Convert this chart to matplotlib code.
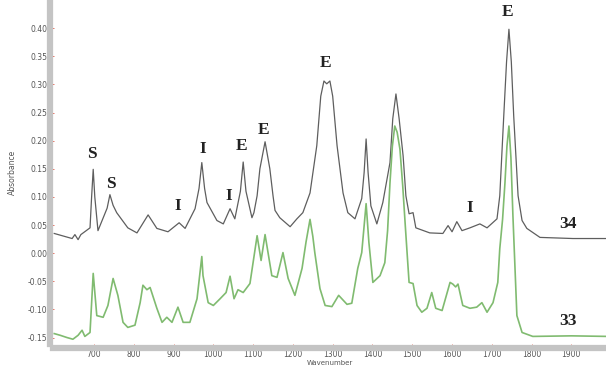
import numpy as np
import matplotlib.pyplot as plt
from matplotlib.ticker import MultipleLocator

# sample 34 (upper trace)
wn34 = [600, 645, 652, 660, 667, 690, 694, 698, 702, 710, 733, 740, 748, 757, 785,
        808, 836, 858, 886, 914, 929, 954, 964, 971, 978, 984, 1009, 1025, 1042,
        1054, 1068, 1075, 1082, 1097, 1102, 1110, 1117, 1130, 1142, 1150, 1155,
        1167, 1193, 1210, 1225, 1243, 1260, 1270, 1278, 1285, 1293, 1300, 1311,
        1326, 1338, 1356, 1373, 1379, 1384, 1389, 1396, 1411, 1426, 1444, 1451,
        1459, 1467, 1477, 1484, 1492, 1502, 1509, 1544, 1577, 1590, 1600, 1612,
        1625, 1645, 1670, 1688, 1713, 1720, 1730, 1737, 1743, 1749, 1755, 1766,
        1776, 1788, 1821, 1904, 1990]
ab34 = [0.035, 0.026, 0.033, 0.024, 0.033, 0.045, 0.100, 0.149, 0.100, 0.040,
        0.080, 0.104, 0.085, 0.072, 0.045, 0.036, 0.068, 0.044, 0.038, 0.054,
        0.044, 0.079, 0.115, 0.161, 0.115, 0.090, 0.058, 0.052, 0.079, 0.061,
        0.110, 0.162, 0.110, 0.063, 0.072, 0.102, 0.150, 0.198, 0.150, 0.102,
        0.076, 0.063, 0.047, 0.061, 0.072, 0.107, 0.191, 0.279, 0.306, 0.301,
        0.306, 0.279, 0.191, 0.107, 0.072, 0.061, 0.097, 0.143, 0.203, 0.143,
        0.084, 0.052, 0.090, 0.161, 0.239, 0.283, 0.239, 0.173, 0.102, 0.070,
        0.072, 0.045, 0.036, 0.035, 0.049, 0.038, 0.056, 0.040, 0.045, 0.052,
        0.045, 0.061, 0.102, 0.244, 0.340, 0.398, 0.340, 0.244, 0.102, 0.058,
        0.044, 0.028, 0.026, 0.026]

# sample 33 (lower trace)
wn33 = [600, 615, 632, 647, 660, 670, 677, 690, 698, 707, 723, 735, 748, 760, 773,
        785, 803, 816, 823, 833, 841, 858, 871, 883, 896, 911, 924, 941, 959, 971,
        974, 987, 1000, 1017, 1032, 1042, 1052, 1062, 1075, 1092, 1110, 1120, 1130,
        1147, 1160, 1175, 1188, 1205, 1223, 1233, 1243, 1250, 1255, 1268, 1281,
        1298, 1315, 1336, 1348, 1363, 1373, 1384, 1391, 1401, 1419, 1431, 1438,
        1444, 1450, 1456, 1462, 1469, 1476, 1482, 1488, 1492, 1502, 1512, 1524,
        1537, 1549, 1559, 1575, 1595, 1602, 1609, 1615, 1627, 1645, 1662, 1675,
        1688, 1703, 1715, 1720, 1727, 1733, 1738, 1743, 1748, 1753, 1763, 1776,
        1803, 1900, 1990]
ab33 = [-0.143, -0.146, -0.150, -0.153, -0.146, -0.137, -0.148, -0.141, -0.036,
        -0.111, -0.114, -0.093, -0.045, -0.075, -0.123, -0.132, -0.128, -0.088,
        -0.057, -0.065, -0.061, -0.098, -0.123, -0.114, -0.123, -0.096, -0.123,
        -0.123, -0.081, -0.006, -0.040, -0.088, -0.093, -0.081, -0.070, -0.041,
        -0.081, -0.065, -0.070, -0.054, 0.031, -0.013, 0.033, -0.040, -0.043,
        0.001, -0.045, -0.075, -0.027, 0.020, 0.060, 0.030, 0.001, -0.063,
        -0.093, -0.095, -0.075, -0.091, -0.089, -0.027, 0.001, 0.088, 0.019,
        -0.052, -0.040, -0.017, 0.040, 0.125, 0.190, 0.226, 0.215, 0.185, 0.120,
        0.054, -0.010, -0.052, -0.054, -0.093, -0.105, -0.098, -0.070, -0.098,
        -0.102, -0.052, -0.055, -0.060, -0.055, -0.093, -0.098, -0.096, -0.088,
        -0.105, -0.088, -0.052, 0.008, 0.060, 0.125, 0.190, 0.226, 0.170, 0.067,
        -0.111, -0.141, -0.148, -0.147, -0.148]

# peak assignments
lab_txt = ["S", "S", "I", "I", "I", "E", "E", "E", "I", "E"]
lab_x = [695, 743, 911, 974, 1039, 1072, 1127, 1283, 1645, 1740]
lab_y = [0.177, 0.123, 0.083, 0.185, 0.102, 0.191, 0.219, 0.338, 0.081, 0.428]

fig = plt.figure(figsize=(6.06, 3.71), dpi=100)
ax = fig.add_axes([0.0875, 0.072, 0.9125, 0.928])

ax.plot(wn34, ab34, color="#5e5e5e", lw=0.9)
ax.plot(wn33, ab33, color="#80bb70", lw=1.2)

for t, x, y in zip(lab_txt, lab_x, lab_y):
    ax.text(x, y, t, ha="center", va="center", fontsize=12.5,
            fontweight="bold", family="Liberation Serif", color="#222222")
ax.text(1891, 0.051, "34", ha="center", va="center", fontsize=12.5,
        fontweight="bold", family="Liberation Serif", color="#222222")
ax.text(1891, -0.121, "33", ha="center", va="center", fontsize=12.5,
        fontweight="bold", family="Liberation Serif", color="#222222")

ax.set_xlim(597, 1987)
ax.set_ylim(-0.162, 0.45)

ax.xaxis.set_minor_locator(MultipleLocator(20))
ax.set_yticks(np.arange(-0.15, 0.401, 0.05))
ax.set_yticklabels(["%.2f" % v for v in np.arange(-0.15, 0.401, 0.05)])
ax.set_xticks(np.arange(700, 1901, 100))

for s in ["top", "right"]:
    ax.spines[s].set_visible(False)
for s in ["left", "bottom"]:
    ax.spines[s].set_color("#c4c4c4")
    ax.spines[s].set_linewidth(4.5)
    ax.spines[s].set_position(("outward", 2.5))

ax.tick_params(which="both", direction="in", color="#e06050", labelcolor="#555555",
               labelsize=5.5, length=3, width=0.6, pad=1.5)
ax.tick_params(which="minor", length=2)
ax.tick_params(axis="y", which="minor", left=False)

ax.set_xlabel("Wavenumber", fontsize=5, color="#555555")
ax.xaxis.set_label_coords(0.5, -0.047)
ax.set_ylabel("Absorbance", fontsize=5.5, color="#555555", labelpad=8)

fig.savefig("out.png", dpi=100)
